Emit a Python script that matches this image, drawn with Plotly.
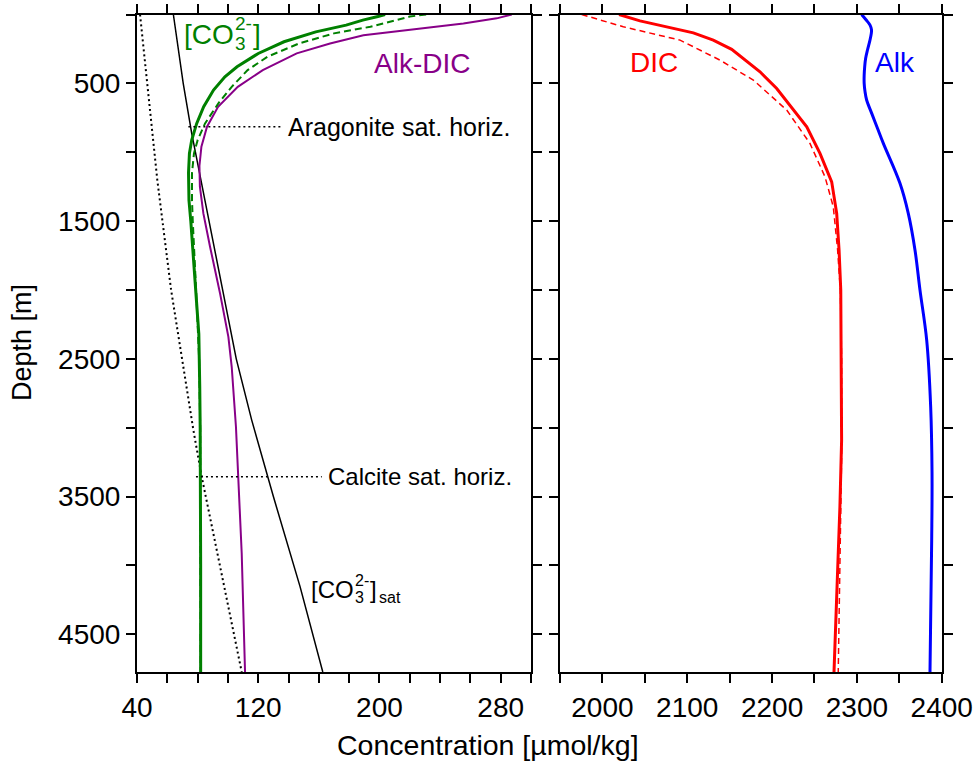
import plotly.graph_objects as go

# ---------------- data ----------------
# Left panel: concentration [umol/kg] vs depth [m]
co3_depth = [0, 15, 41, 77, 126, 198, 283, 380, 452, 549, 670, 791, 912, 1008, 1150,
             1350, 1500, 2000, 2320, 2700, 3000, 4000, 4774]
co3_conc = [203.7, 199, 189, 178, 158, 137, 120, 106, 98, 90.5, 84, 79.4, 76.1, 74.6, 74.0,
            74.3, 75.5, 78.6, 80.8, 81.4, 81.7, 82.0, 82.0]

co3_dash_depth = [0, 15, 41, 89, 137, 210, 307, 404, 525, 645, 791, 912, 1008, 1150, 1350,
                  1500, 2000, 2500, 3000, 4774]
co3_dash_conc = [230.8, 220, 211, 194, 170, 147, 126, 113, 102.5, 93.7, 84.9, 80.0, 77.6, 76.3,
                 76.3, 76.8, 79.0, 81.0, 81.7, 82.0]

alkdic_depth = [0, 28, 65, 94, 118, 150, 210, 282, 404, 525, 670, 815, 960, 1100, 1250, 1444,
                1686, 2025, 2340, 2558, 2993, 3429, 3912, 4774]
alkdic_conc = [287.3, 277.4, 255.4, 233.4, 211.4, 189.4, 167.4, 145.4, 123.0, 106.5, 93.5, 86.2,
               82.5, 81.2, 81.5, 83.8, 88.2, 94.8, 100.3, 102.5, 105.3, 106.9, 109.1, 111.3]

arag_sat_depth = [0, 500, 863, 1202, 1600, 2000, 2500, 2945, 3500, 4154, 4774]
arag_sat_conc = [64.0, 70.5, 76.1, 82.2, 89.3, 96.5, 105.5, 115.7, 130.0, 147.6, 162.6]

calc_sat_depth = [0, 1202, 2000, 2500, 3017, 3356, 4774]
calc_sat_conc = [42.0, 53.4, 62.5, 69.5, 77.2, 82.7, 109.1]

# saturation horizons: depth and x-extent of the dotted leader lines
horizon_depths = [815, 3356]
horizon_x_start = [73.9, 78.9]
horizon_x_end = [135.5, 161.9]
horizon_labels = ["Aragonite sat. horiz.", "Calcite sat. horiz."]
horizon_label_sizes = [25, 24]

# Right panel
dic_depth = [0, 46, 133, 186, 253, 416, 537, 815, 1008, 1215, 1444, 1710, 2001, 2500, 3089,
             3574, 4057, 4779]
dic_conc = [2019.6, 2044.3, 2107.2, 2130.7, 2152.4, 2185.8, 2205.5, 2240.9, 2256.5, 2270.3,
            2276.2, 2279.0, 2281.0, 2281.8, 2282.0, 2280.0, 2277.3, 2273.0]

dic_dash_depth = [0, 89, 186, 331, 476, 694, 936, 1178, 1396, 1710, 2001, 2500, 3089, 4000, 4779]
dic_dash_conc = [1975.6, 2024.6, 2091.5, 2138.6, 2177.9, 2217.3, 2244.7, 2262.4, 2272.2, 2277.3,
                 2280.5, 2282.0, 2282.3, 2280.0, 2278.0]

alk_depth = [0, 40, 77, 110, 137, 190, 258, 320, 380, 440, 500, 560, 621, 718, 830, 936, 1226,
             1444, 1710, 2001, 2364, 2848, 3331, 3815, 4779]
alk_conc = [2305.6, 2311, 2315.5, 2317.2, 2317.0, 2315.3, 2312.5, 2310.3, 2309.2, 2308.6,
            2308.6, 2309.6, 2311.5, 2317.5, 2324.5, 2331.2, 2350.8, 2360.6, 2368.5, 2374.4,
            2382.3, 2387.0, 2388.6, 2388.2, 2386.2]

# axis setup values
left_range = [40, 300]
right_range = [1950, 2400]
depth_range = [4774, 0]

FONT = "Liberation Sans, Arial, Helvetica, sans-serif"
GREEN = "#008000"
PURPLE = "#880088"

fig = go.Figure()

def line(x, y, color, width, dash="solid", ax=1, shape="linear"):
    fig.add_trace(go.Scatter(
        x=x, y=y, mode="lines", showlegend=False, hoverinfo="skip",
        line=dict(color=color, width=width, dash=dash, shape=shape),
        xaxis="x" if ax == 1 else "x2", yaxis="y" if ax == 1 else "y2"))

line(calc_sat_conc, calc_sat_depth, "black", 2, "2px,3px")
line(arag_sat_conc, arag_sat_depth, "black", 1.5)
line(alkdic_conc, alkdic_depth, PURPLE, 2)
line(co3_dash_conc, co3_dash_depth, GREEN, 2, "7px,4px")
line(co3_conc, co3_depth, GREEN, 3)
for d, xs, xe in zip(horizon_depths, horizon_x_start, horizon_x_end):
    line([xs, xe], [d, d], "black", 1.5, "2px,3px")

line(dic_dash_conc, dic_dash_depth, "red", 1.5, "6px,4px", ax=2)
line(dic_conc, dic_depth, "red", 3, ax=2)
line(alk_conc, alk_depth, "blue", 3, ax=2, shape="spline")

W, H = 976, 762
tick_common = dict(ticks="outside", ticklen=9, tickwidth=1.5, tickcolor="black",
                   showline=True, linewidth=2, linecolor="black", mirror="allticks",
                   showgrid=False, zeroline=False, automargin=False,
                   tickfont=dict(family=FONT, size=28, color="black"))
minor_common = dict(ticks="outside", ticklen=9, tickwidth=1.5, tickcolor="black", showgrid=False)

ydom = [1 - 672 / H, 1 - 14.5 / H]
fig.update_layout(
    width=W, height=H, margin=dict(l=0, r=0, t=0, b=0, autoexpand=False),
    paper_bgcolor="white", plot_bgcolor="white",
    font=dict(family=FONT, color="black"),
    xaxis=dict(domain=[137 / W, 531 / W], range=left_range, tick0=40, dtick=80,
               minor=dict(tick0=40, dtick=20, **minor_common), anchor="y", **tick_common),
    yaxis=dict(domain=ydom, range=depth_range, tick0=500, dtick=1000,
               minor=dict(tick0=0, dtick=500, **minor_common), anchor="x", **tick_common),
    xaxis2=dict(domain=[560 / W, 941.7 / W], range=right_range, tick0=2000, dtick=100,
                minor=dict(tick0=1950, dtick=50, **minor_common), anchor="y2", **tick_common),
    yaxis2=dict(domain=ydom, range=depth_range, tick0=500, dtick=1000, matches="y",
                minor=dict(tick0=0, dtick=500, **minor_common), anchor="x2",
                showticklabels=False,
                **{k: v for k, v in tick_common.items() if k != "tickfont"}),
)

ann = []
def text(t, x, y, size, color="black", xanchor="center", yanchor="middle", xref="x", yref="y",
         xshift=0, yshift=0, angle=0):
    ann.append(dict(text=t, x=x, y=y, xref=xref, yref=yref, showarrow=False,
                    xanchor=xanchor, yanchor=yanchor, xshift=xshift, yshift=yshift,
                    textangle=angle, font=dict(family=FONT, size=size, color=color)))

# axis titles
text("Concentration [µmol/kg]", 0.5, 1 - 745 / H, 28.5, xref="paper", yref="paper")
text("Depth [m]", 22 / W, 1 - 343 / H, 27, xref="paper", yref="paper", angle=-90)

# curve labels
text("Alk-DIC", 227.9, 353, 28, PURPLE)
text("DIC", 2060.8, 349, 28, "red", xref="x2", yref="y2")
text("Alk", 2345, 351, 28, "blue", xref="x2", yref="y2")
for d, xe, lab, sz in zip(horizon_depths, horizon_x_end, horizon_labels, horizon_label_sizes):
    text(lab, xe, d, sz, xanchor="left", xshift=4)

# [CO3 2-] labels with stacked super/subscript
def chem(x, y, size, small, color, sat=False):
    w_main = 1.778 * size
    text("[CO", x, y, size, color, xanchor="left")
    text("2-", x, y, small, color, xanchor="left", xshift=w_main + 1, yshift=size * 0.38)
    text("3", x, y, small, color, xanchor="left", xshift=w_main + 1, yshift=-size * 0.33)
    w_sup = 0.889 * small
    text("]", x, y, size, color, xanchor="left", xshift=w_main + w_sup + 2)
    if sat:
        text("sat", x, y, small, color, xanchor="left",
             xshift=w_main + w_sup + 2 + 0.278 * size + 2, yshift=-size * 0.33)

chem(69.7, 142, 28, 19, GREEN)
chem(153.5, 4178, 24, 16, "black", sat=True)

fig.update_layout(annotations=ann)
fig.write_html("out.html")
